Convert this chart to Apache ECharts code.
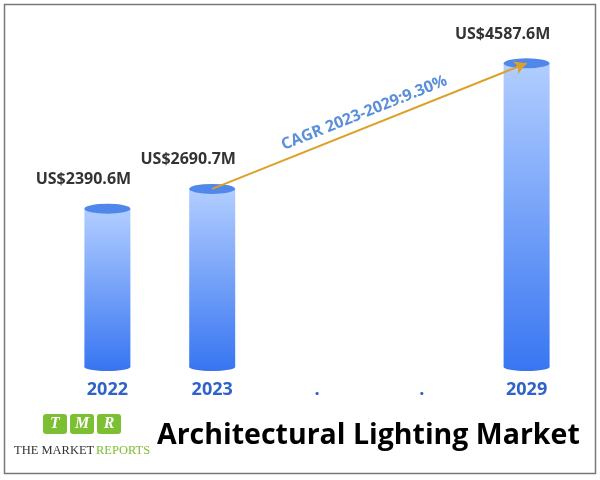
<!DOCTYPE html>
<html><head><meta charset="utf-8">
<script src="https://cdn.jsdelivr.net/npm/echarts@6/dist/echarts.min.js"></script>
<style>html,body{margin:0;padding:0;background:#fff}#c{width:600px;height:480px}</style>
</head><body><div id="c"></div>
<script>
var categories = ['2022', '2023', '.', '.', '2029'];
var values = [2390.6, 2690.7, null, null, 4587.6];
var cagrFrom = ['2023', 2690.7];
var cagrTo = ['2029', 4587.6];
var cagrText = 'CAGR 2023-2029:9.30%';
var titleText = 'Architectural Lighting Market';

var chart = echarts.init(document.getElementById('c'));
var grad = new echarts.graphic.LinearGradient(0, 0, 0, 1, [
  {offset: 0, color: '#b2ceff'},
  {offset: 1, color: '#3a77f2'}
]);
chart.setOption({
  animation: false,
  grid: {left: 55, right: 21, top: 36, bottom: 113},
  xAxis: {
    type: 'category', data: categories,
    axisLine: {show: false}, axisTick: {show: false},
    axisLabel: {color: '#2f63c9', fontWeight: 'bold', fontSize: 18, fontFamily: 'Open Sans', margin: 14}
  },
  yAxis: {type: 'value', min: 0, max: 5000, show: false, splitLine: {show: false}},
  series: [
    {
      type: 'bar', data: values, barWidth: 46, z: 2,
      itemStyle: {color: grad},
      label: {
        show: true, position: 'top', offset: [-24, -16],
        color: '#333', fontWeight: 'bold', fontSize: 16, fontFamily: 'Open Sans',
        formatter: function (p) { return 'US$' + p.value.toFixed(1) + 'M'; }
      },
      markLine: {
        silent: true, symbol: ['none', 'arrow'], symbolSize: [10, 12],
        lineStyle: {color: '#dda128', width: 2, type: 'solid'},
        label: {
          show: true, position: 'middle', formatter: cagrText, distance: 6,
          color: '#5b8fdb', fontWeight: 'bold', fontSize: 16, fontFamily: 'Open Sans'
        },
        data: [[{coord: cagrFrom}, {coord: cagrTo}]]
      }
    },
    {
      type: 'pictorialBar', data: values, symbol: 'circle', symbolSize: [46, 10],
      symbolPosition: 'end', symbolOffset: [0, '-50%'], z: 3,
      itemStyle: {color: '#4f87ea'}
    },
    {
      type: 'pictorialBar', data: values, symbol: 'circle', symbolSize: [46, 8],
      symbolPosition: 'start', symbolOffset: [0, '50%'], z: 1,
      itemStyle: {color: '#3a74ee'}
    }
  ],
  graphic: [
    {type: 'rect', shape: {x: 4.5, y: 4.5, width: 591, height: 469}, style: {fill: null, stroke: '#777', lineWidth: 1.5}, z: 0},
    {type: 'rect', shape: {x: 43, y: 414, width: 24, height: 20, r: 3}, style: {fill: '#7cbf32'}},
    {type: 'rect', shape: {x: 70, y: 414, width: 24, height: 20, r: 3}, style: {fill: '#7cbf32'}},
    {type: 'rect', shape: {x: 97, y: 414, width: 24, height: 20, r: 3}, style: {fill: '#7cbf32'}},
    {type: 'text', style: {x: 55, y: 424, text: 'T', fill: '#fff', font: 'italic bold 16px "Liberation Serif"', align: 'center', verticalAlign: 'middle'}},
    {type: 'text', style: {x: 82, y: 424, text: 'M', fill: '#fff', font: 'italic bold 16px "Liberation Serif"', align: 'center', verticalAlign: 'middle'}},
    {type: 'text', style: {x: 109, y: 424, text: 'R', fill: '#fff', font: 'italic bold 16px "Liberation Serif"', align: 'center', verticalAlign: 'middle'}},
    {type: 'text', style: {x: 14, y: 451, text: 'THE MARKET', fill: '#333', font: '12.5px "Liberation Serif"', verticalAlign: 'middle'}},
    {type: 'text', style: {x: 96, y: 451, text: 'REPORTS', fill: '#7cbf32', font: '12.5px "Liberation Serif"', verticalAlign: 'middle'}},
    {type: 'text', style: {x: 157, y: 436, text: titleText, fill: '#000', font: 'bold 28.5px "Open Sans"', verticalAlign: 'middle'}}
  ]
});
</script></body></html>
